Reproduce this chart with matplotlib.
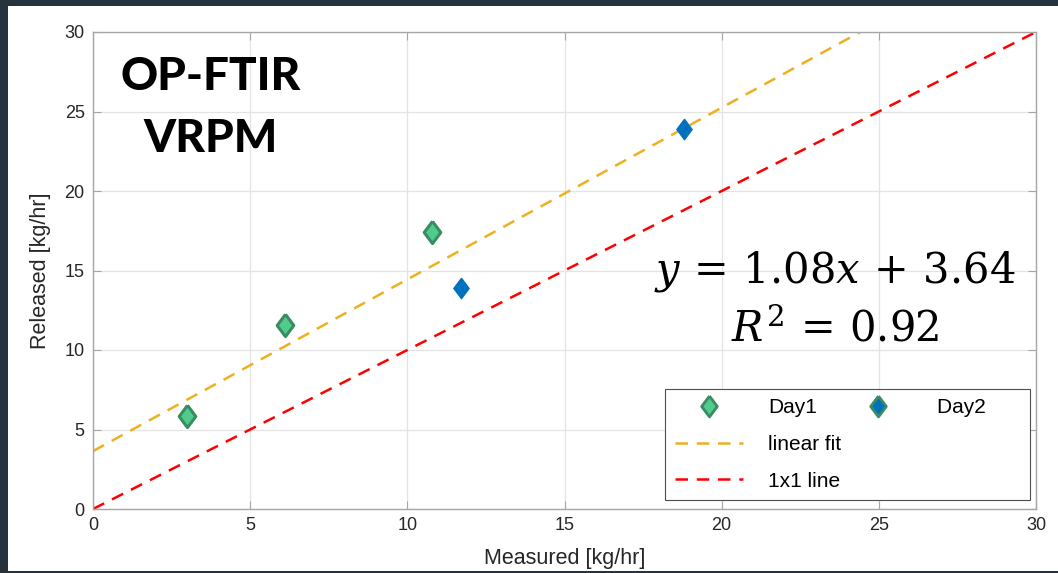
import matplotlib.pyplot as plt
from matplotlib.lines import Line2D
from matplotlib.patches import Rectangle
import numpy as np

# Data
day1_measured = [3.0, 6.1, 10.8]
day1_released = [5.85, 11.6, 17.4]
day2_measured = [11.7, 18.8]
day2_released = [13.9, 23.9]

fit_slope = 1.08
fit_intercept = 3.64
fit_r2 = 0.92

xlim = [0, 30]
ylim = [0, 30]
ticks = [0, 5, 10, 15, 20, 25, 30]

green_face = "#4fcb8b"
green_edge = "#3a8c62"
blue_face = "#0072bd"
fit_color = "#edb120"
line_color = "#ff0000"
text_color = "#262626"

plt.rcParams["font.family"] = ["Liberation Sans", "DejaVu Sans"]
plt.rcParams["mathtext.fontset"] = "dejavuserif"

# MATLAB-style diamond (a bit wider than matplotlib's "d")
diamond = [(0, 1), (0.75, 0), (0, -1), (-0.75, 0), (0, 1)]
dash = (0, (5, 3.5))

fig = plt.figure(figsize=(10.58, 5.73), dpi=100)
fig.patch.set_facecolor("#26323c")
# white slide panel
fig.patches.append(Rectangle((8 / 1058, 2 / 573), 1 - 8 / 1058, 565 / 573,
                             transform=fig.transFigure, facecolor="white",
                             edgecolor="none", zorder=-10))

ax = fig.add_axes([93 / 1058, 64 / 573, 943 / 1058, 477 / 573])
ax.set_facecolor("white")

xs = np.array(xlim, dtype=float)
ax.plot(xs, fit_slope * xs + fit_intercept, color=fit_color, linestyle=dash,
        linewidth=1.8, zorder=2)
ax.plot(xs, xs, color=line_color, linestyle=dash, linewidth=1.8, zorder=2)

ax.plot(day1_measured, day1_released, linestyle="none", marker=diamond, markersize=16,
        markerfacecolor=green_face, markeredgecolor=green_edge, markeredgewidth=2.2,
        zorder=3)
ax.plot(day2_measured, day2_released, linestyle="none", marker=diamond, markersize=15,
        markerfacecolor=blue_face, markeredgecolor=blue_face, markeredgewidth=0.8,
        zorder=3)

ax.set_xlim(xlim)
ax.set_ylim(ylim)
ax.set_xticks(ticks)
ax.set_yticks(ticks)
ax.grid(True, color="#e3e3e3", linewidth=0.9)
ax.set_axisbelow(True)
ax.tick_params(direction="in", length=6, color="#a6a6a6", top=True, right=True,
               labelsize=13, labelcolor=text_color, pad=6)
for s in ax.spines.values():
    s.set_color("#a6a6a6")
    s.set_linewidth(1.0)

ax.set_xlabel("Measured [kg/hr]", fontsize=15.5, color=text_color, labelpad=10)
ax.set_ylabel("Released [kg/hr]", fontsize=15.5, color=text_color, labelpad=10)

# big label top-left
ax.text(0.125, 0.905, "OP-FTIR", transform=ax.transAxes, fontsize=33,
        fontweight="black", family="Lato", ha="center", va="center", color="black")
ax.text(0.125, 0.775, "VRPM", transform=ax.transAxes, fontsize=33,
        fontweight="black", family="Lato", ha="center", va="center", color="black")

# fit equation
ax.text(0.787, 0.497, rf"$y\,=\,{fit_slope:.2f}x\,+\,{fit_intercept:.2f}$",
        transform=ax.transAxes, fontsize=30, ha="center", va="center", color="black")
ax.text(0.787, 0.377, rf"$R^2\,=\,{fit_r2:.2f}$", transform=ax.transAxes,
        fontsize=30, ha="center", va="center", color="black")

# legend: Day1 / linear fit / 1x1 line in first column, Day2 in second
h_day1 = Line2D([], [], linestyle="none", marker=diamond, markersize=15,
                markerfacecolor=green_face, markeredgecolor=green_edge,
                markeredgewidth=2)
h_day2 = Line2D([], [], linestyle="none", marker=diamond, markersize=15,
                markerfacecolor=blue_face, markeredgecolor=green_edge,
                markeredgewidth=2)
h_fit = Line2D([], [], color=fit_color, linestyle=dash, linewidth=1.8)
h_one = Line2D([], [], color=line_color, linestyle=dash, linewidth=1.8)
h_blank = Line2D([], [], linestyle="none")
leg = ax.legend([h_day1, h_fit, h_one, h_day2, h_blank, h_blank],
                ["Day1", "linear fit", "1x1 line", "Day2      ", "", ""],
                ncol=2, loc="lower right", bbox_to_anchor=(0.9936, 0.019),
                borderaxespad=0, fontsize=15, handlelength=3.3, columnspacing=0.1,
                handletextpad=1.2, labelspacing=0.85, borderpad=0.45,
                fancybox=False, framealpha=1, edgecolor="#4d4d4d")
leg.get_frame().set_linewidth(0.8)
for t in leg.get_texts():
    t.set_color("black")

fig.savefig("out.png", dpi=100, facecolor=fig.get_facecolor())
